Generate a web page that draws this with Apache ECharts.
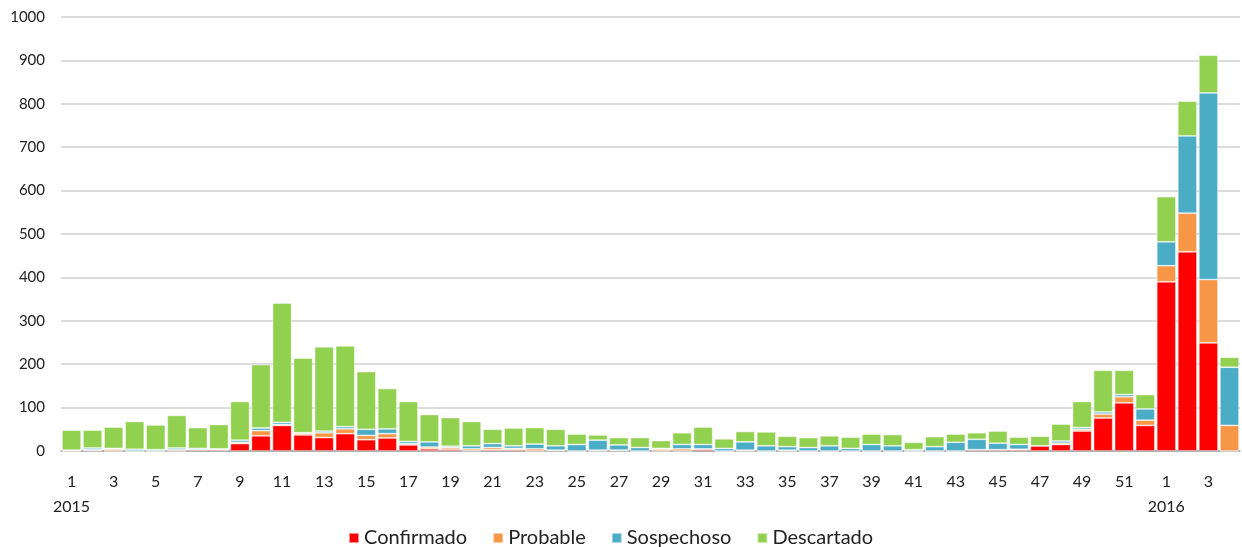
<!DOCTYPE html>
<html><head><meta charset="utf-8">
<script src="https://cdn.jsdelivr.net/npm/echarts@6/dist/echarts.min.js"></script>
<style>html,body{margin:0;padding:0;background:#fff}#c{width:1242px;height:547px}</style>
</head><body><div id="c"></div>
<script>
const weeks = ['1','2','3','4','5','6','7','8','9','10','11','12','13','14','15','16','17','18','19','20','21','22','23','24','25','26','27','28','29','30','31','32','33','34','35','36','37','38','39','40','41','42','43','44','45','46','47','48','49','50','51','52','1','2','3','4'];
const years = {0:'2015', 52:'2016'};
const confirmado = [0,1,0,0,0,0,3,3,17,35,59,37,31,40,26,30,14,5,4,1,3,3,0,1,0,0,1,0,0,0,4,0,0,0,0,0,0,0,0,0,0,0,0,3,3,3,12,15,46,76,111,59,390,459,249,0];
const probable   = [1,2,4,0,0,3,0,0,3,12,2,4,11,11,10,10,3,4,4,4,5,3,5,1,0,2,1,0,4,5,1,0,2,0,2,0,0,0,0,0,0,0,0,0,0,1,0,3,4,9,14,12,37,89,146,59];
const sospechoso = [1,4,2,4,3,4,3,2,5,6,5,1,4,5,14,11,5,12,3,7,9,6,11,10,15,23,12,8,2,10,10,6,19,12,8,8,12,6,15,12,3,10,20,24,15,11,0,5,4,5,5,26,55,178,430,134];
const descartado = [46,41,49,64,57,75,48,56,89,146,275,172,194,186,133,93,92,63,66,56,33,41,38,38,24,12,17,23,18,27,40,22,24,32,24,23,23,26,24,26,17,23,19,15,28,17,22,39,60,96,56,33,104,80,87,23];
const yTicks = {min:0, max:1000, interval:100};

const font = 'Lato, "Open Sans", sans-serif';
const mk = (name, data, color) => ({
  name, type:'bar', stack:'t', data, barCategoryGap:'9%',
  itemStyle:{color, borderColor:'rgba(255,255,255,0.55)', borderWidth:0.8},
  emphasis:{disabled:true}
});
const chart = echarts.init(document.getElementById('c'), null, {renderer:'canvas'});
chart.setOption({
  animation:false,
  textStyle:{fontFamily:font},
  grid:{left:61, right:2, top:17, bottom:96},
  legend:{top:523, left:343, itemWidth:10, itemHeight:10, itemGap:25, icon:'rect',
    textStyle:{fontFamily:font, fontSize:20, color:'#222'}},
  xAxis:{type:'category', data:weeks,
    axisLine:{lineStyle:{color:'#a0a0a0', width:1.5}}, axisTick:{show:false},
    axisLabel:{interval:1, margin:18, fontSize:16, color:'#222', fontFamily:font, lineHeight:25,
      formatter:(v,i)=> years[i] ? v+'\n'+years[i] : v}},
  yAxis:{type:'value', min:yTicks.min, max:yTicks.max, interval:yTicks.interval,
    axisLine:{show:false}, axisTick:{show:false},
    axisLabel:{fontSize:15, color:'#222', margin:16, fontFamily:font, formatter:v=>String(v)},
    splitLine:{lineStyle:{color:'#d0d0d0', width:1.5}}},
  series:[
    mk('Confirmado', confirmado, '#ff0000'),
    mk('Probable', probable, '#f79646'),
    mk('Sospechoso', sospechoso, '#4bacc6'),
    mk('Descartado', descartado, '#92d050')
  ]
});
</script></body></html>
